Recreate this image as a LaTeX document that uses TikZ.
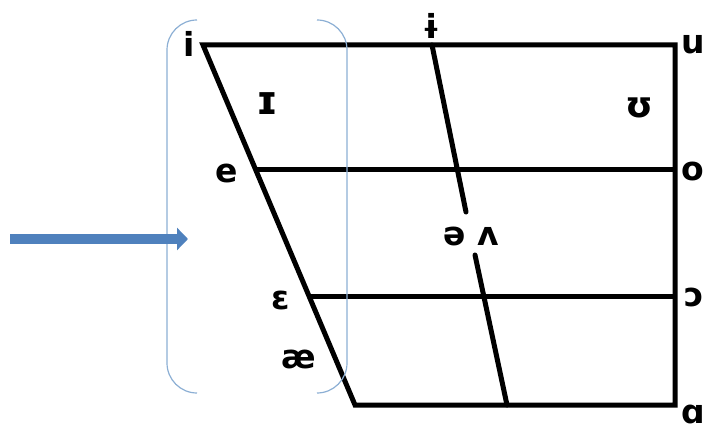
\documentclass[tikz,border=0pt]{standalone}
\usepackage{fontspec}
\setmainfont{DejaVu Sans}
\usetikzlibrary{arrows.meta}
\definecolor{arrowblue}{RGB}{79,129,189}
\definecolor{bracketblue}{RGB}{140,175,212}
\tikzset{
  chart/.style={line width=5pt, line join=miter},
  vowel/.style={font=\bfseries\fontsize{33}{33}\selectfont, inner sep=0pt},
  bracket/.style={draw=bracketblue, line width=1.2pt, rounded corners=30pt},
  bigarrow/.style={line width=10pt, draw=arrowblue, -{Triangle[length=11pt,width=22pt]}}
}
\begin{document}
\begin{tikzpicture}[x=1pt,y=-1pt]
\useasboundingbox (0,0) rectangle (717,443);

% corners of the chart
\coordinate (iC) at (203,45);
\coordinate (uC) at (675,45);
\coordinate (aC) at (675,405);
\coordinate (aeC) at (355,405);
\coordinate (eC) at (256,170);
\coordinate (oC) at (675,170);
\coordinate (epsC) at (309,297);
\coordinate (openoC) at (675,297);

\draw[chart] (iC) -- (uC) -- (aC) -- (aeC) -- cycle;
\draw[chart] (eC) -- (oC);
\draw[chart] (epsC) -- (openoC);

% central line
\coordinate (barT) at (432,45);
\coordinate (schwaT) at (466,212);
\coordinate (schwaB) at (475,255);
\coordinate (barB) at (507,405);
\draw[chart,line cap=round] (barT) -- (schwaT);
\draw[chart,line cap=round] (schwaB) -- (barB);

% vowels
\node[vowel] (i) at (189,44) {i};
\node[vowel] (ibar) at (431,26) {ɨ};
\node[vowel,font=\bfseries\fontsize{40}{40}\selectfont] (smallI) at (267,104) {ɪ};
\node[vowel] (e) at (227,173) {e};
\node[vowel] (eps) at (281,300) {ɛ};
\node[vowel] (ae) at (299,359) {æ};
\node[vowel] (schwa) at (471,236) {ə ʌ};
\node[vowel] (u) at (693,45) {u};
\node[vowel,font=\bfseries\fontsize{36}{36}\selectfont] (upsilon) at (639,108) {ʊ};
\node[vowel] (o) at (693,171) {o};
\node[vowel] (openo) at (694,297) {ɔ};
\node[vowel] (a) at (693,414) {ɑ};

% brackets
\draw[bracket] (197,20) -- (167,20) -- (167,393) -- (197,393);
\draw[bracket] (317,20) -- (347,20) -- (347,393) -- (317,393);

% arrow
\coordinate (arrS) at (10,239);
\coordinate (arrE) at (188,239);
\draw[bigarrow] (arrS) -- (arrE);
\end{tikzpicture}
\end{document}
